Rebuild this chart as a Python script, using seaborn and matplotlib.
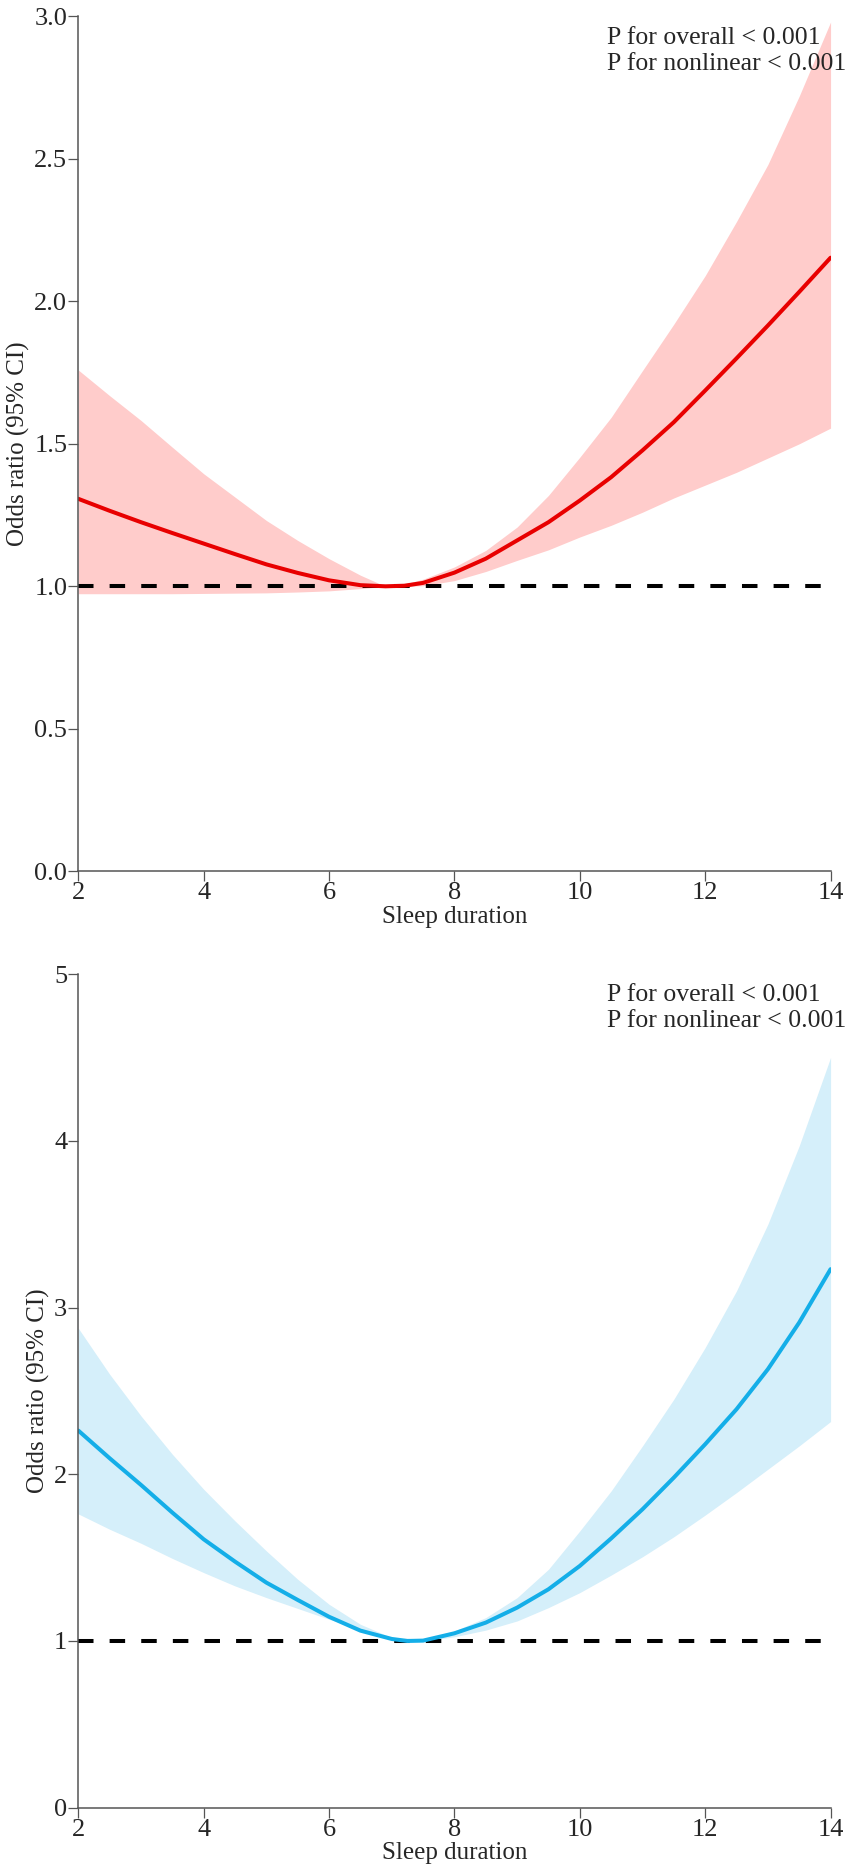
import matplotlib
matplotlib.use('Agg')
import matplotlib.pyplot as plt
import seaborn as sns
import pandas as pd

sns.set_style('ticks')
plt.rcParams['font.family'] = ['Liberation Serif', 'DejaVu Serif']

# top panel: sleep duration vs odds ratio (red)
top_x = [2, 2.5, 3, 3.5, 4, 4.5, 5, 5.5, 6, 6.5, 6.9, 7.2, 7.5, 8, 8.5,
         9, 9.5, 10, 10.5, 11, 11.5, 12, 12.5, 13, 13.5, 14]
top_or = [1.307, 1.265, 1.225, 1.187, 1.150, 1.113, 1.077, 1.047, 1.021, 1.004, 1.0, 1.002, 1.012,
          1.048, 1.097, 1.161, 1.225, 1.301, 1.383, 1.477, 1.576, 1.687, 1.80, 1.915, 2.033, 2.153]
top_lo = [0.974, 0.974, 0.974, 0.974, 0.975, 0.976, 0.977, 0.98, 0.984, 0.992, 1.0, 1.0, 1.002,
          1.02, 1.052, 1.091, 1.128, 1.173, 1.214, 1.26, 1.31, 1.355, 1.40, 1.45, 1.50, 1.555]
top_hi = [1.759, 1.669, 1.582, 1.488, 1.395, 1.313, 1.231, 1.161, 1.097, 1.039, 1.0, 1.008, 1.025,
          1.068, 1.126, 1.208, 1.319, 1.453, 1.593, 1.757, 1.92, 2.09, 2.28, 2.48, 2.72, 2.98]

# bottom panel (blue)
bot_x = [2, 2.5, 3, 3.5, 4, 4.5, 5, 5.5, 6, 6.5, 7, 7.25, 7.5, 8, 8.5,
         9, 9.5, 10, 10.5, 11, 11.5, 12, 12.5, 13, 13.5, 14]
bot_or = [2.262, 2.096, 1.936, 1.77, 1.61, 1.476, 1.35, 1.246, 1.145, 1.062, 1.012, 1.0, 1.002,
          1.046, 1.11, 1.2, 1.31, 1.45, 1.615, 1.79, 1.98, 2.18, 2.39, 2.63, 2.91, 3.23]
bot_lo = [1.762, 1.67, 1.586, 1.495, 1.41, 1.33, 1.26, 1.195, 1.13, 1.07, 1.02, 1.0, 1.0,
          1.025, 1.065, 1.12, 1.2, 1.29, 1.395, 1.505, 1.625, 1.755, 1.89, 2.03, 2.17, 2.316]
bot_hi = [2.876, 2.60, 2.35, 2.12, 1.91, 1.72, 1.54, 1.37, 1.22, 1.10, 1.02, 1.0, 1.01,
          1.06, 1.14, 1.26, 1.43, 1.66, 1.9, 2.17, 2.45, 2.76, 3.10, 3.50, 3.97, 4.5]

p_text = 'P for overall < 0.001\nP for nonlinear < 0.001'

fig = plt.figure(figsize=(8.51, 18.75), dpi=100)
ax1 = fig.add_axes([0.092, 0.5353, 0.884, 0.4560])
ax2 = fig.add_axes([0.092, 0.0359, 0.884, 0.4446])


def panel(ax, x, orr, lo, hi, line_c, fill_c, ylim, yticks, ylabels):
    df = pd.DataFrame({'x': x, 'or': orr, 'lo': lo, 'hi': hi})
    ax.fill_between(df['x'], df['lo'], df['hi'], color=fill_c, lw=0)
    ax.axhline(1, color='black', lw=2.9, dashes=(3.85, 4.0), xmax=0.99)
    sns.lineplot(data=df, x='x', y='or', ax=ax, color=line_c, lw=2.9)
    ax.set_xlim(2, 14)
    ax.set_ylim(*ylim)
    ax.set_xticks([2, 4, 6, 8, 10, 12, 14])
    ax.set_yticks(yticks)
    ax.set_yticklabels(ylabels)
    ax.tick_params(labelsize=19, length=7, width=0.9, color='#555555', pad=1)
    for s in ['top', 'right']:
        ax.spines[s].set_visible(False)
    for s in ['left', 'bottom']:
        ax.spines[s].set_color('#555555')
        ax.spines[s].set_linewidth(1.1)
    ax.set_xlabel('Sleep duration', fontsize=18, labelpad=1)
    ax.set_ylabel('Odds ratio (95% CI)', fontsize=18, labelpad=3)
    ax.text(0.703, 0.988, p_text, transform=ax.transAxes, fontsize=18.5,
            va='top', ha='left', linespacing=1.25)


panel(ax1, top_x, top_or, top_lo, top_hi, '#E80000', '#FFCCCB', (0, 3.0),
      [0, 0.5, 1.0, 1.5, 2.0, 2.5, 3.0], ['0.0', '0.5', '1.0', '1.5', '2.0', '2.5', '3.0'])
panel(ax2, bot_x, bot_or, bot_lo, bot_hi, '#14AEE8', '#D5EFFA', (0, 5),
      [0, 1, 2, 3, 4, 5], ['0', '1', '2', '3', '4', '5'])

fig.savefig('out.png', dpi=100)
